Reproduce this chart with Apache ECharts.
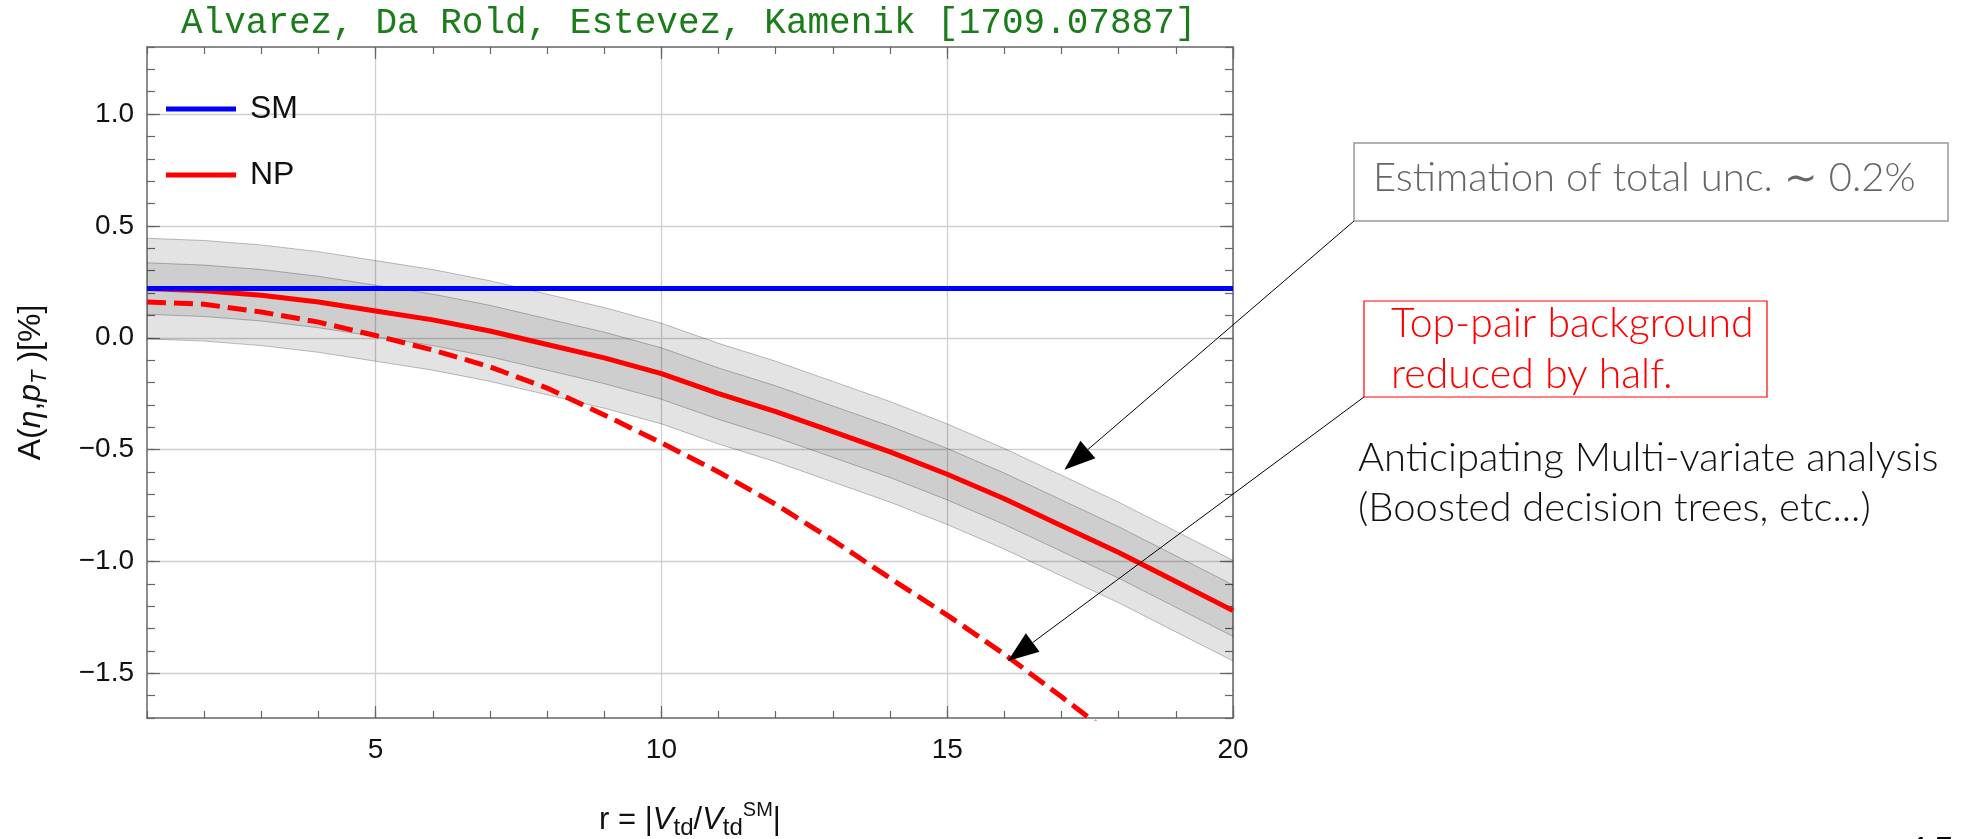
<!DOCTYPE html>
<html><head><meta charset="utf-8">
<script src="https://cdn.jsdelivr.net/npm/echarts@6/dist/echarts.min.js"></script>
<style>html,body{margin:0;padding:0;background:#fff}#c{width:1968px;height:839px}</style>
</head><body><div id="c"></div>
<script>
// ---------- data ----------
const titleText = 'Alvarez, Da Rold, Estevez, Kamenik [1709.07887]';
const xValues = [1,2,3,4,5,6,7,8,9,10,11,12,13,14,15,16,17,18,19,20];
const smValues = [0.22,0.22,0.22,0.22,0.22,0.22,0.22,0.22,0.22,0.22,0.22,0.22,0.22,0.22,0.22,0.22,0.22,0.22,0.22,0.22];
const npValues = [0.22,0.21,0.19,0.16,0.12,0.08,0.03,-0.03,-0.09,-0.16,-0.25,-0.33,-0.42,-0.51,-0.61,-0.72,-0.84,-0.96,-1.09,-1.22];
const outerUpper = [0.445,0.435,0.415,0.385,0.345,0.305,0.255,0.195,0.135,0.065,-0.025,-0.105,-0.195,-0.285,-0.385,-0.495,-0.615,-0.735,-0.865,-0.995];
const outerLower = [-0.005,-0.015,-0.035,-0.065,-0.105,-0.145,-0.195,-0.255,-0.315,-0.385,-0.475,-0.555,-0.645,-0.735,-0.835,-0.945,-1.065,-1.185,-1.315,-1.445];
const innerUpper = [0.335,0.325,0.305,0.275,0.235,0.195,0.145,0.085,0.025,-0.045,-0.135,-0.215,-0.305,-0.395,-0.495,-0.605,-0.725,-0.845,-0.975,-1.105];
const innerLower = [0.105,0.095,0.075,0.045,0.005,-0.035,-0.085,-0.145,-0.205,-0.275,-0.365,-0.445,-0.535,-0.625,-0.725,-0.835,-0.955,-1.075,-1.205,-1.335];
const halfBkgX = [1,2,3,4,5,6,7,8,9,10,11,12,13,14,15,16,17,18];
const halfBkgValues = [0.16,0.15,0.115,0.07,0.01,-0.055,-0.13,-0.225,-0.345,-0.47,-0.60,-0.745,-0.905,-1.075,-1.24,-1.415,-1.605,-1.80];
const xMajorTicks = [5,10,15,20];
const yMajorTicks = [-1.5,-1,-0.5,0,0.5,1];
const legendNames = ['SM','NP'];
const arrowTips = [[17.05,-0.59],[16.06,-1.445]];
const noteGray = 'Estimation of total unc. \u223C 0.2%';
const noteRed = ['Top-pair background','reduced by half.'];
const noteBlack = ['Anticipating Multi-variate analysis','(Boosted decision trees, etc...)'];

// ---------- chart ----------
const chart = echarts.init(document.getElementById('c'), null, {renderer:'canvas'});
const SANS = '"Liberation Sans", Arial, sans-serif';
const NOTE = 'Lato, "Liberation Sans", sans-serif';
const frameColor = '#666';
const GRID = {left:147, top:47, width:1086, height:671, outerBoundsMode:'none'};

const pair = (xs, ys) => xs.map((x,i)=>[x, ys[i]]);

function band(upper, lower, fill, z) {
  return {
    type:'custom', silent:true, z:z, xAxisIndex:0, yAxisIndex:0,
    data:[[1,0]],
    renderItem: function(params, api) {
      const up = xValues.map((x,i)=>api.coord([x, upper[i]]));
      const lo = xValues.map((x,i)=>api.coord([x, lower[i]]));
      return {type:'group', children:[
        {type:'polygon', shape:{points: up.concat(lo.slice().reverse())}, style:{fill:fill, stroke:null}},
        {type:'polyline', shape:{points: up}, style:{stroke:'rgba(0,0,0,0.25)', lineWidth:1, fill:null}},
        {type:'polyline', shape:{points: lo}, style:{stroke:'rgba(0,0,0,0.25)', lineWidth:1, fill:null}}
      ]};
    }
  };
}

const yFmt = v => (v < 0 ? '\u2212' : '') + Math.abs(v).toFixed(1);

const baseX = {type:'value', min:1, max:20, interval:1, gridIndex:0};
const baseY = {type:'value', min:-1.7, max:1.3, interval:0.1, gridIndex:0};
const hiddenLine = {show:false, onZero:false};

const option = {
  backgroundColor:'#fff',
  animation:false,
  title:{text:titleText, left:176, top:0,
    textStyle:{fontFamily:'"Liberation Mono", "Courier New", monospace', fontSize:36, fontWeight:'normal', color:'#1a7d1a'}},
  grid:GRID,
  legend:{data:legendNames, orient:'vertical', left:161, top:88, itemGap:34, itemWidth:70, itemHeight:5, icon:'rect',
    textStyle:{fontFamily:SANS, fontSize:32, color:'#111', lineHeight:32, padding:[0,0,0,9]}, selectedMode:false},
  xAxis:[
    Object.assign({}, baseX, {position:'bottom',
      axisLine:{show:true, onZero:false, lineStyle:{color:frameColor, width:1.5}},
      axisTick:{show:true, inside:true, length:12, customValues:xMajorTicks, lineStyle:{color:frameColor, width:1.2}},
      axisLabel:{show:true, customValues:xMajorTicks, margin:18, fontFamily:SANS, fontSize:28, color:'#111'},
      splitLine:{show:true, lineStyle:{color:'#cfcfcf', width:1.3}},
      name:'r = |{it|V}{sub|td}/{it|V}{sub|td}{sup|SM}|', nameLocation:'middle', nameGap:82,
      nameTextStyle:{fontFamily:SANS, fontSize:31, color:'#111', lineHeight:40,
        rich:{it:{fontFamily:SANS, fontStyle:'italic', fontSize:31, lineHeight:40, color:'#111'},
              sub:{fontFamily:SANS, fontSize:24, lineHeight:24, verticalAlign:'bottom', color:'#111'},
              sup:{fontFamily:SANS, fontSize:20, lineHeight:20, verticalAlign:'top', color:'#111'}}}}),
    Object.assign({}, baseX, {position:'bottom', axisLine:hiddenLine,
      axisTick:{show:true, inside:true, length:7, lineStyle:{color:frameColor, width:1.2}},
      axisLabel:{show:false}, splitLine:{show:false}}),
    Object.assign({}, baseX, {position:'top',
      axisLine:{show:true, onZero:false, lineStyle:{color:frameColor, width:1.5}},
      axisTick:{show:true, inside:true, length:12, customValues:xMajorTicks, lineStyle:{color:frameColor, width:1.2}},
      axisLabel:{show:false}, splitLine:{show:false}}),
    Object.assign({}, baseX, {position:'top', axisLine:hiddenLine,
      axisTick:{show:true, inside:true, length:7, lineStyle:{color:frameColor, width:1.2}},
      axisLabel:{show:false}, splitLine:{show:false}})
  ],
  yAxis:[
    Object.assign({}, baseY, {position:'left',
      axisLine:{show:true, onZero:false, lineStyle:{color:frameColor, width:1.5}},
      axisTick:{show:true, inside:true, length:13, customValues:yMajorTicks, lineStyle:{color:frameColor, width:1.2}},
      axisLabel:{show:true, customValues:yMajorTicks, margin:13, formatter:yFmt, fontFamily:SANS, fontSize:28, color:'#111'},
      splitLine:{show:true, lineStyle:{color:'#cfcfcf', width:1.3}},
      name:'A({it|\u03B7},{it|p}{sub|T} )[%]', nameLocation:'middle', nameRotate:90, nameGap:96,
      nameTextStyle:{fontFamily:SANS, fontSize:32, color:'#111', lineHeight:40,
        rich:{it:{fontFamily:SANS, fontStyle:'italic', fontSize:32, lineHeight:40, color:'#111'},
              sub:{fontFamily:SANS, fontStyle:'italic', fontSize:22, lineHeight:22, verticalAlign:'bottom', color:'#111'}}}}),
    Object.assign({}, baseY, {position:'left', axisLine:hiddenLine,
      axisTick:{show:true, inside:true, length:8, lineStyle:{color:frameColor, width:1.2}},
      axisLabel:{show:false}, splitLine:{show:false}}),
    Object.assign({}, baseY, {position:'right',
      axisLine:{show:true, onZero:false, lineStyle:{color:frameColor, width:1.5}},
      axisTick:{show:true, inside:true, length:13, customValues:yMajorTicks, lineStyle:{color:frameColor, width:1.2}},
      axisLabel:{show:false}, splitLine:{show:false}}),
    Object.assign({}, baseY, {position:'right', axisLine:hiddenLine,
      axisTick:{show:true, inside:true, length:8, lineStyle:{color:frameColor, width:1.2}},
      axisLabel:{show:false}, splitLine:{show:false}})
  ],
  series:[
    band(outerUpper, outerLower, 'rgba(0,0,0,0.11)', 1),
    band(innerUpper, innerLower, 'rgba(0,0,0,0.09)', 1.1),
    {name:'NP half background', type:'line', data:pair(halfBkgX, halfBkgValues), showSymbol:false, clip:true, z:3,
      color:'#ff0000', lineStyle:{color:'#ff0000', width:5, type:[19,8]}},
    {name:'NP', type:'line', data:pair(xValues, npValues), showSymbol:false, clip:true, z:4,
      color:'#ff0000', itemStyle:{color:'#ff0000'}, lineStyle:{color:'#ff0000', width:5}},
    {name:'SM', type:'line', data:pair(xValues, smValues), showSymbol:false, clip:true, z:5,
      color:'#0000ff', itemStyle:{color:'#0000ff'}, lineStyle:{color:'#0000ff', width:5}}
  ]
};
chart.setOption(option);

// ---------- annotations ----------
const grayBox = {x:1354, y:143, w:594, h:78};
const redBox = {x:1364, y:301, w:403, h:96};
function arrow(start, tipData) {
  const tip = chart.convertToPixel({xAxisIndex:0, yAxisIndex:0}, tipData);
  const dx = tip[0]-start[0], dy = tip[1]-start[1];
  const L = Math.sqrt(dx*dx+dy*dy), ux = dx/L, uy = dy/L;
  const hl = 31, hw = 11.5;
  const bx = tip[0]-ux*hl, by = tip[1]-uy*hl;
  return [
    {type:'line', shape:{x1:start[0], y1:start[1], x2:bx, y2:by}, style:{stroke:'#000', lineWidth:1}, z:50},
    {type:'polygon', shape:{points:[tip,[bx-uy*hw, by+ux*hw],[bx+uy*hw, by-ux*hw]]}, style:{fill:'#000'}, z:50}
  ];
}
const g = [];
g.push({type:'rect', shape:{x:grayBox.x, y:grayBox.y, width:grayBox.w, height:grayBox.h}, style:{fill:null, stroke:'#999', lineWidth:1.5}, z:50});
g.push({type:'text', x:1373, y:178.5, style:{text:noteGray, font:'300 40px ' + NOTE, fill:'#666', textVerticalAlign:'middle'}, z:50});
g.push({type:'rect', shape:{x:redBox.x, y:redBox.y, width:redBox.w, height:redBox.h}, style:{fill:null, stroke:'#ff0000', lineWidth:1.2}, z:50});
noteRed.forEach((t,i)=>g.push({type:'text', x:1391, y:324+i*50.5, style:{text:t, font:'300 41px ' + NOTE, fill:'#ff0000', textVerticalAlign:'middle'}, z:50}));
noteBlack.forEach((t,i)=>g.push({type:'text', x:1358, y:458+i*50, style:{text:t, font:'300 40px ' + NOTE, fill:'#111', textVerticalAlign:'middle'}, z:50}));
g.push({type:'text', x:1908, y:833, style:{text:'15', font:'40px ' + NOTE, fill:'#000', textVerticalAlign:'top'}, z:50});
arrow([grayBox.x, grayBox.y+grayBox.h], arrowTips[0]).forEach(e=>g.push(e));
arrow([redBox.x, redBox.y+redBox.h], arrowTips[1]).forEach(e=>g.push(e));
chart.setOption({graphic:g});
</script>
</body></html>
